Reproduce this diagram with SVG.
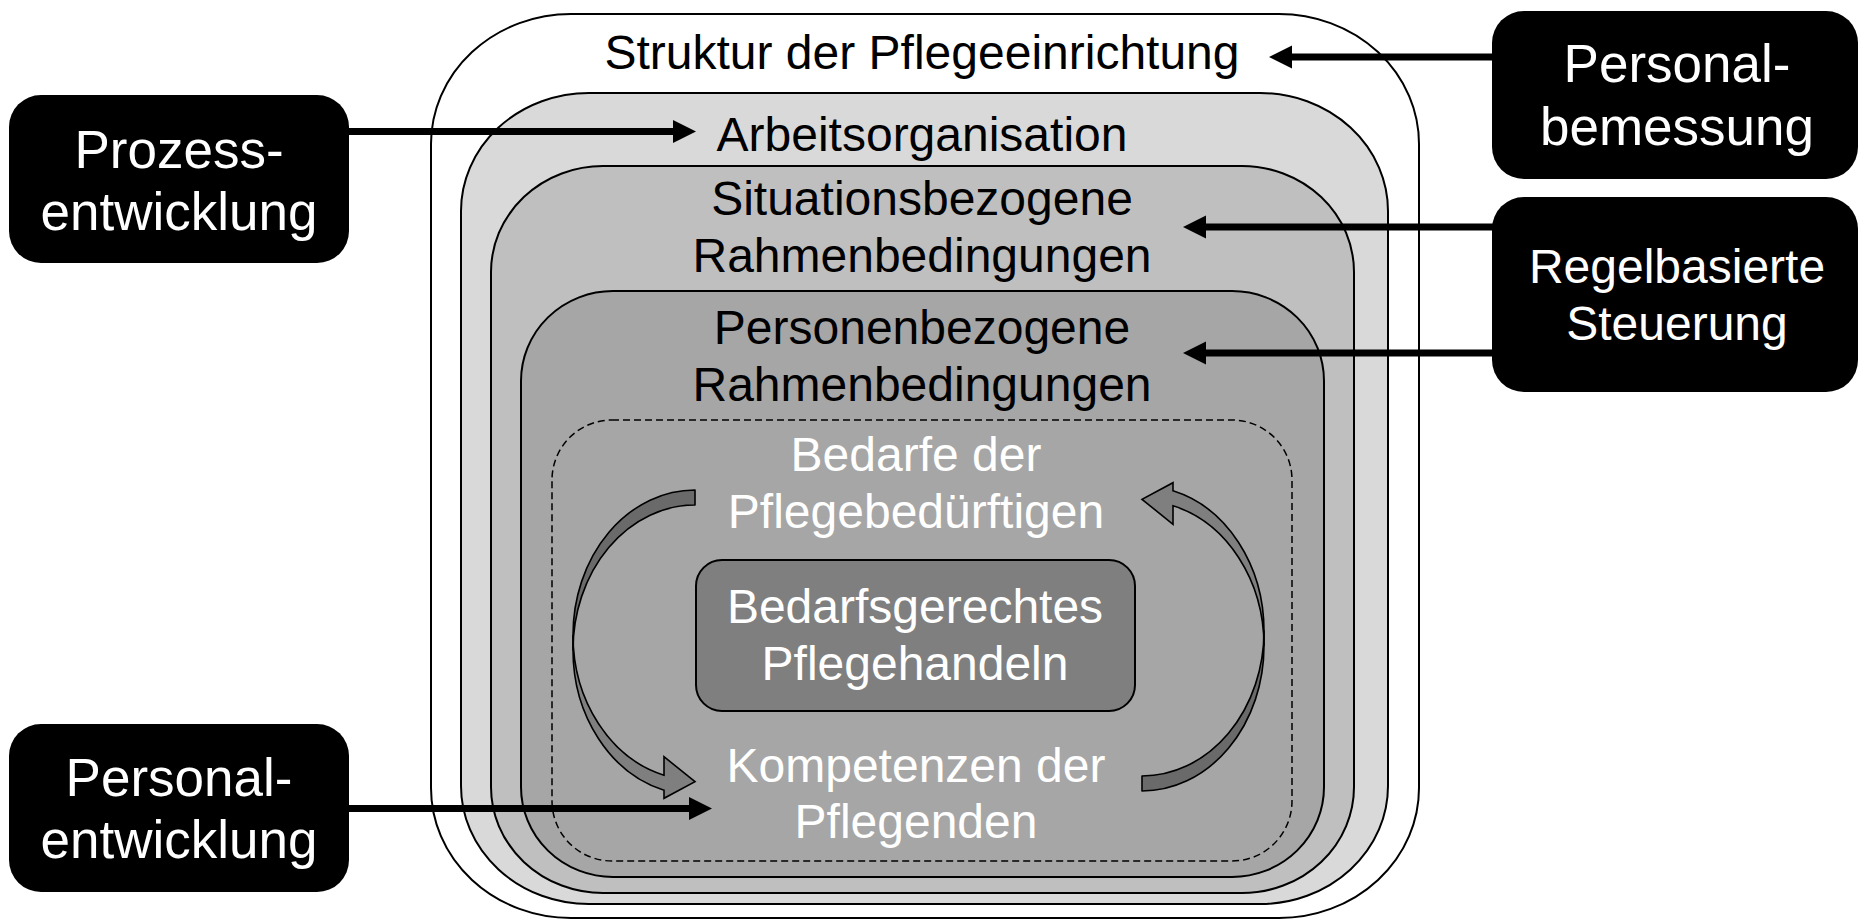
<svg xmlns="http://www.w3.org/2000/svg" width="1860" height="920" viewBox="0 0 1860 920">
  <defs>
    <style>
      .layer { stroke: #000; stroke-width: 2; }
      .t { font-family: "Liberation Sans", Arial, sans-serif; font-size: 48px; text-anchor: middle; }
      .dark { fill: #000; }
      .light { fill: #fff; }
      .bb { fill: #000; }
      .bbt { font-family: "Liberation Sans", Arial, sans-serif; font-size: 53px; text-anchor: middle; fill: #fff; }
      .conn { stroke: #000; stroke-width: 7; fill: none; }
      .cyc-back { fill: #6a6a6a; stroke: #000; stroke-width: 1.6; stroke-linejoin: round; }
      .cyc-front { fill: #7f7f7f; stroke: #000; stroke-width: 1.6; stroke-linejoin: miter; }
    </style>
    <marker id="ah" markerUnits="userSpaceOnUse" markerWidth="24" markerHeight="24" refX="1" refY="11.5" orient="auto">
      <path d="M0,0 L23,11.5 L0,23 Z" fill="#000"/>
    </marker>
    <g id="cycArrow">
      <path class="cyc-back" d="M695,490 A122,145 0 0 0 573,635 L573,650 A122,145 0 0 1 695,505 Z"/>
      <path class="cyc-front" d="M573,635 A122,145 0 0 0 664,775.2 L664,756.7 L695,781.7 L664,798.3 L664,790.2 A122,145 0 0 1 573,650 Z"/>
    </g>
  </defs>

  <rect width="1860" height="920" fill="#fff"/>

  <g id="struktur">
    <rect class="layer" x="431" y="14" width="988" height="904" rx="140" ry="130" fill="#fff"/>
    <text class="t dark" x="922" y="69">Struktur der Pflegeeinrichtung</text>
  </g>

  <g id="arbeitsorganisation">
    <rect class="layer" x="461" y="93" width="927" height="811" rx="128" ry="118" fill="#d9d9d9"/>
    <text class="t dark" x="922" y="151">Arbeitsorganisation</text>
  </g>

  <g id="situationsbezogen">
    <rect class="layer" x="491" y="166" width="863" height="727" rx="112" ry="106" fill="#bfbfbf"/>
    <text class="t dark" x="922" y="215">Situationsbezogene</text>
    <text class="t dark" x="922" y="272">Rahmenbedingungen</text>
  </g>

  <g id="personenbezogen">
    <rect class="layer" x="521" y="291" width="803" height="586" rx="92" ry="90" fill="#a6a6a6"/>
    <text class="t dark" x="922" y="344">Personenbezogene</text>
    <text class="t dark" x="922" y="401">Rahmenbedingungen</text>
  </g>

  <g id="pflegeprozess">
    <rect x="552" y="420" width="740" height="441" rx="60" ry="60" fill="none" stroke="#000" stroke-width="1.5" stroke-dasharray="7,4"/>
  </g>

  <g id="bedarfe">
    <text class="t light" x="916" y="471">Bedarfe der</text>
    <text class="t light" x="916" y="528">Pflegebedürftigen</text>
  </g>

  <g id="pflegehandeln">
    <rect x="696" y="560" width="439" height="151" rx="26" ry="26" fill="#7f7f7f" stroke="#000" stroke-width="2"/>
    <text class="t light" x="915" y="623">Bedarfsgerechtes</text>
    <text class="t light" x="915" y="680">Pflegehandeln</text>
  </g>

  <g id="kompetenzen">
    <text class="t light" x="916" y="782">Kompetenzen der</text>
    <text class="t light" x="916" y="838">Pflegenden</text>
  </g>

  <g id="zyklus">
    <use href="#cycArrow"/>
    <use href="#cycArrow" transform="rotate(180 918.5 640.5)"/>
  </g>

  <g id="prozessentwicklung">
    <rect class="bb" x="9" y="95" width="340" height="168" rx="32" ry="32"/>
    <text class="bbt" x="179" y="168">Prozess-</text>
    <text class="bbt" x="179" y="230">entwicklung</text>
  </g>

  <g id="personalentwicklung">
    <rect class="bb" x="9" y="724" width="340" height="168" rx="32" ry="32"/>
    <text class="bbt" x="179" y="796">Personal-</text>
    <text class="bbt" x="179" y="858">entwicklung</text>
  </g>

  <g id="personalbemessung">
    <rect class="bb" x="1492" y="11" width="366" height="168" rx="32" ry="32"/>
    <text class="bbt" x="1677" y="82">Personal-</text>
    <text class="bbt" x="1677" y="145">bemessung</text>
  </g>

  <g id="regelbasierte-steuerung">
    <rect class="bb" x="1492" y="197" width="366" height="195" rx="32" ry="32"/>
    <text class="bbt" x="1677" y="283" style="font-size:48px">Regelbasierte</text>
    <text class="bbt" x="1677" y="340" style="font-size:48px">Steuerung</text>
  </g>

  <g id="connectors">
    <line class="conn" x1="1500" y1="57" x2="1291" y2="57" marker-end="url(#ah)"/>
    <line class="conn" x1="340" y1="131.5" x2="674" y2="131.5" marker-end="url(#ah)"/>
    <line class="conn" x1="1500" y1="227" x2="1205" y2="227" marker-end="url(#ah)"/>
    <line class="conn" x1="1500" y1="353" x2="1205" y2="353" marker-end="url(#ah)"/>
    <line class="conn" x1="340" y1="808.5" x2="690" y2="808.5" marker-end="url(#ah)"/>
  </g>
</svg>
